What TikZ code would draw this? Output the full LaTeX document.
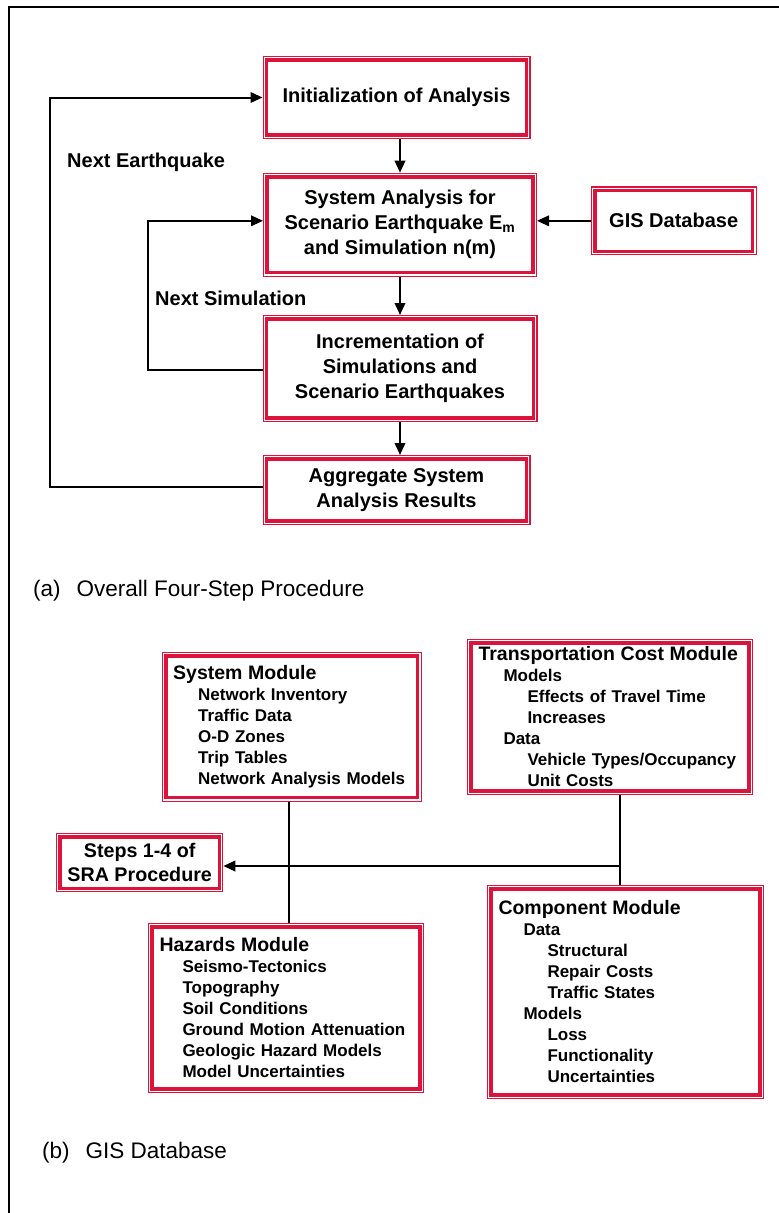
\documentclass[tikz,border=0pt]{standalone}
\usepackage{fontspec}
\setmainfont{Liberation Sans}
\usetikzlibrary{arrows.meta}
\definecolor{boxred}{RGB}{220,20,60}
\tikzset{
  rbox/.style={draw=boxred, line width=1.2pt, double=white, double distance=1.2pt,
    fill=white, outer sep=1.8pt, inner sep=0pt,
    path picture={\draw[boxred, line width=8pt] (path picture bounding box.south west) rectangle (path picture bounding box.north east);}},
  flowtxt/.style={align=center, font=\bfseries\fontsize{20}{25}\selectfont},
  stepstxt/.style={align=center, font=\bfseries\fontsize{19.7}{23.5}\selectfont},
  modtxt/.style={align=left, inner xsep=9.7pt, font=\bfseries\fontsize{17}{21}\selectfont},
  arr/.style={line width=2pt, -{Triangle[length=12pt,width=10.5pt]}},
  ln/.style={line width=2pt},
  lbl/.style={font=\bfseries\fontsize{20}{22}\selectfont, inner sep=0pt, anchor=base west},
  captxt/.style={font=\fontsize{22.5}{25}\selectfont, inner sep=0pt, anchor=base west}
}
\newcommand{\hdr}[1]{{\fontsize{19.5}{21}\selectfont\mbox{#1}}}
\begin{document}
\begin{tikzpicture}[x=1pt,y=-1pt]
\useasboundingbox (0,0) rectangle (779,1213);
\draw[line width=2pt] (9,1213) -- (9,7) -- (779,7);

% (a) flow chart
\node[rbox, flowtxt, minimum width=264.4pt, minimum height=79.4pt] (init) at (396.5,97.5) {Initialization of Analysis};
\node[rbox, flowtxt, minimum width=270.4pt, minimum height=100.4pt] (sys) at (400,224.7) {System Analysis for\\Scenario Earthquake E\textsubscript{m}\\and Simulation n(m)};
\node[rbox, flowtxt, minimum width=162.4pt, minimum height=65.4pt] (gis) at (673.7,220.8) {GIS Database};
\node[rbox, flowtxt, minimum width=271.4pt, minimum height=103.4pt] (incr) at (400,368.5) {Incrementation of\\Simulations and\\Scenario Earthquakes};
\node[rbox, flowtxt, minimum width=264.4pt, minimum height=66.4pt] (aggr) at (396.5,490) {Aggregate System\\Analysis Results};

\coordinate (le) at (50,487);
\coordinate (ls) at (148,370);

\draw[arr] (sys.north |- init.south) -- (sys.north);
\draw[arr] (sys.south) -- (incr.north);
\draw[arr] (incr.south) -- (incr.south |- aggr.north);
\draw[arr] (gis.west) -- (gis.west -| sys.east);
\draw[arr] (incr.west |- ls) -- (ls) -- (ls |- gis.west) -- (gis.west -| sys.west);
\draw[arr] (aggr.west |- le) -- (le) -- (le |- init.west) -- (init.west);

\node[lbl] (ne) at (67,167) {Next Earthquake};
\node[lbl] (ns) at (155,305) {Next Simulation};
\node[captxt] (capa) at (33,596.7) {(a)\hspace{16pt}Overall Four-Step Procedure};

% (b) GIS database
\node[rbox, modtxt, text width=237pt, minimum height=146.4pt] (sysmod) at (291.7,726.8) {\hdr{System Module}\\
\hspace*{25pt}Network Inventory\\
\hspace*{25pt}Traffic Data\\
\hspace*{25pt}O-D Zones\\
\hspace*{25pt}Trip Tables\\
\hspace*{25pt}Network Analysis Models};

\node[rbox, modtxt, text width=263pt, minimum height=152.4pt] (transp) at (610,717) {\hdr{Transportation Cost Module}\\
\hspace*{25pt}Models\\
\hspace*{49pt}Effects of Travel Time\\
\hspace*{49pt}Increases\\
\hspace*{25pt}Data\\
\hspace*{49pt}Vehicle Types/Occupancy\\
\hspace*{49pt}Unit Costs};

\node[rbox, stepstxt, minimum width=163.7pt, minimum height=56pt] (steps) at (139.7,862.5) {Steps 1-4 of\\SRA Procedure};

\node[rbox, modtxt, text width=253pt, minimum height=166.4pt] (haz) at (286,1008) {\hdr{Hazards Module}\\
\hspace*{23pt}Seismo-Tectonics\\
\hspace*{23pt}Topography\\
\hspace*{23pt}Soil Conditions\\
\hspace*{23pt}Ground Motion Attenuation\\
\hspace*{23pt}Geologic Hazard Models\\
\hspace*{23pt}Model Uncertainties};

\node[rbox, modtxt, text width=254pt, minimum height=210.4pt] (comp) at (625.5,992) {\hdr{Component Module}\\
\hspace*{25pt}Data\\
\hspace*{49pt}Structural\\
\hspace*{49pt}Repair Costs\\
\hspace*{49pt}Traffic States\\
\hspace*{25pt}Models\\
\hspace*{49pt}Loss\\
\hspace*{49pt}Functionality\\
\hspace*{49pt}Uncertainties};

\coordinate (j1) at (289,866);
\coordinate (j2) at (620,866);
\draw[ln] (sysmod.south -| j1) -- (haz.north -| j1);
\draw[ln] (transp.south -| j2) -- (comp.north -| j2);
\draw[arr] (j2) -- (j2 -| steps.east);

\node[captxt] (capb) at (42,1158) {(b)\hspace{16pt}GIS Database};
\end{tikzpicture}
\end{document}
